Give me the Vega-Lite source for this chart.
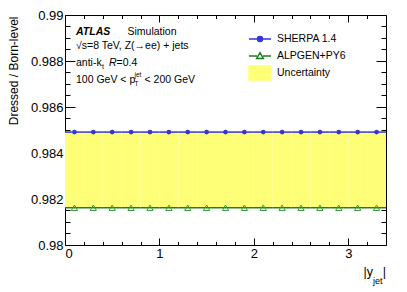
{
  "$schema": "https://vega.github.io/schema/vega-lite/v6.json",
  "width": 321,
  "height": 230,
  "autosize": "none",
  "padding": {"left": 65, "top": 15, "right": 21, "bottom": 47},
  "config": {
    "view": {"stroke": "black", "strokeWidth": 1},
    "font": "Liberation Sans",
    "axis": {"grid": false, "domain": false, "tickColor": "black", "labelColor": "black", "titleColor": "black", "labelFont": "Liberation Sans", "titleFont": "Liberation Sans"}
  },
  "data": {"values": [
    {"x": 0.1, "x0": 0.0, "x1": 0.2, "sherpa": 0.98491, "alpgen": 0.98162},
    {"x": 0.3, "x0": 0.2, "x1": 0.4, "sherpa": 0.98491, "alpgen": 0.98162},
    {"x": 0.5, "x0": 0.4, "x1": 0.6, "sherpa": 0.98491, "alpgen": 0.98162},
    {"x": 0.7, "x0": 0.6, "x1": 0.8, "sherpa": 0.98491, "alpgen": 0.98162},
    {"x": 0.9, "x0": 0.8, "x1": 1.0, "sherpa": 0.98491, "alpgen": 0.98162},
    {"x": 1.1, "x0": 1.0, "x1": 1.2, "sherpa": 0.98491, "alpgen": 0.98162},
    {"x": 1.3, "x0": 1.2, "x1": 1.4, "sherpa": 0.98491, "alpgen": 0.98162},
    {"x": 1.5, "x0": 1.4, "x1": 1.6, "sherpa": 0.98491, "alpgen": 0.98162},
    {"x": 1.7, "x0": 1.6, "x1": 1.8, "sherpa": 0.98491, "alpgen": 0.98162},
    {"x": 1.9, "x0": 1.8, "x1": 2.0, "sherpa": 0.98491, "alpgen": 0.98162},
    {"x": 2.1, "x0": 2.0, "x1": 2.2, "sherpa": 0.98491, "alpgen": 0.98162},
    {"x": 2.3, "x0": 2.2, "x1": 2.4, "sherpa": 0.98491, "alpgen": 0.98162},
    {"x": 2.5, "x0": 2.4, "x1": 2.6, "sherpa": 0.98491, "alpgen": 0.98162},
    {"x": 2.7, "x0": 2.6, "x1": 2.8, "sherpa": 0.98491, "alpgen": 0.98162},
    {"x": 2.9, "x0": 2.8, "x1": 3.0, "sherpa": 0.98491, "alpgen": 0.98162},
    {"x": 3.1, "x0": 3.0, "x1": 3.2, "sherpa": 0.98491, "alpgen": 0.98162},
    {"x": 3.3, "x0": 3.2, "x1": 3.4, "sherpa": 0.98491, "alpgen": 0.98162}
  ]},
  "resolve": {"axis": {"x": "independent", "y": "independent"}},
  "layer": [
    {
      "mark": {"type": "rect", "strokeWidth": 0},
      "encoding": {
        "x": {"field": "x0", "type": "quantitative", "scale": {"domain": [0, 3.4], "nice": false, "zero": false},
              "axis": {"orient": "bottom", "values": [0, 1, 2, 3], "format": "~g", "ticks": false, "labelFontSize": 13, "labelPadding": 2, "title": null}},
        "x2": {"field": "x1"},
        "y": {"field": "alpgen", "type": "quantitative", "scale": {"domain": [0.98, 0.99], "nice": false, "zero": false},
              "axis": {"orient": "left", "values": [0.98, 0.982, 0.984, 0.986, 0.988, 0.99], "format": "~g", "ticks": false, "labelFontSize": 13, "labelPadding": 2,
                       "title": "Dressed / Born-level", "titleFontSize": 12, "titleFontWeight": "normal", "titleX": -48, "titleY": 1, "titleAlign": "right", "titleAngle": -90, "titleBaseline": "alphabetic"}},
        "y2": {"field": "sherpa"},
        "color": {"datum": "Uncertainty", "type": "nominal",
                  "scale": {"domain": ["SHERPA 1.4", "ALPGEN+PY6", "Uncertainty"], "range": ["#3535d8", "#1f7f1f", "#ffff77"]},
                  "legend": {"orient": "none", "legendX": 184, "legendY": 13, "title": null, "padding": 0, "symbolSize": 400, "rowPadding": 0,
                             "labelFont": "Liberation Sans", "labelFontSize": 10.5, "labelOffset": 6, "labelColor": "black",
                             "encode": {"symbols": {"update": {
                               "shape": {"signal": "datum.value === 'SHERPA 1.4' ? 'M-1.1,0L1.1,0M0.25,0A0.25,0.25,0,1,1,-0.25,0A0.25,0.25,0,1,1,0.25,0Z' : datum.value === 'ALPGEN+PY6' ? 'M-1.1,0L-0.3,0M0.3,0L1.1,0M0,-0.33L0.33,0.24L-0.33,0.24Z' : 'M-1.1,-0.7L1.1,-0.7L1.1,0.7L-1.1,0.7Z'"},
                               "fill": {"signal": "datum.value === 'SHERPA 1.4' ? '#3535d8' : datum.value === 'ALPGEN+PY6' ? 'transparent' : '#ffff77'"},
                               "stroke": {"signal": "datum.value === 'SHERPA 1.4' ? '#3535d8' : datum.value === 'ALPGEN+PY6' ? '#1f7f1f' : 'transparent'"},
                               "strokeWidth": {"value": 1.5},
                               "opacity": {"value": 1},
                               "fillOpacity": {"signal": "datum.value === 'ALPGEN+PY6' ? 0 : 1"},
                               "strokeOpacity": {"value": 1}
                             }}}}}
      }
    },
    {
      "mark": {"type": "rule", "strokeWidth": 1.5},
      "encoding": {
        "x": {"field": "x0", "type": "quantitative", "axis": {"orient": "bottom", "values": [0, 1, 2, 3], "labels": false, "offset": -7, "tickSize": 7, "title": null}},
        "x2": {"field": "x1"},
        "y": {"field": "sherpa", "type": "quantitative", "axis": {"orient": "left", "values": [0.98, 0.982, 0.984, 0.986, 0.988, 0.99], "labels": false, "offset": -10, "tickSize": 10, "title": null}},
        "color": {"datum": "SHERPA 1.4", "type": "nominal"}
      }
    },
    {
      "mark": {"type": "rule", "strokeWidth": 1.5},
      "encoding": {
        "x": {"field": "x0", "type": "quantitative", "axis": {"orient": "bottom", "values": [0.2, 0.4, 0.6, 0.8, 1.2, 1.4, 1.6, 1.8, 2.2, 2.4, 2.6, 2.8, 3.2], "labels": false, "offset": -3.5, "tickSize": 3.5, "title": null}},
        "x2": {"field": "x1"},
        "y": {"field": "alpgen", "type": "quantitative", "axis": {"orient": "left", "values": [0.9805, 0.981, 0.9815, 0.9825, 0.983, 0.9835, 0.9845, 0.985, 0.9855, 0.9865, 0.987, 0.9875, 0.9885, 0.989, 0.9895], "labels": false, "offset": -5, "tickSize": 5, "title": null}},
        "color": {"datum": "ALPGEN+PY6", "type": "nominal"}
      }
    },
    {
      "mark": {"type": "point", "filled": true, "shape": "circle", "size": 22, "opacity": 1},
      "encoding": {
        "x": {"field": "x", "type": "quantitative", "axis": {"orient": "top", "values": [0, 1, 2, 3], "labels": false, "offset": -7, "tickSize": 7, "title": null}},
        "y": {"field": "sherpa", "type": "quantitative", "axis": {"orient": "right", "values": [0.98, 0.982, 0.984, 0.986, 0.988, 0.99], "labels": false, "offset": -10, "tickSize": 10, "title": null}},
        "color": {"datum": "SHERPA 1.4", "type": "nominal"}
      }
    },
    {
      "mark": {"type": "point", "filled": false, "fill": "transparent", "shape": "triangle-up", "size": 40, "strokeWidth": 1, "opacity": 1, "stroke": "#3c9a3c"},
      "encoding": {
        "x": {"field": "x", "type": "quantitative", "axis": {"orient": "top", "values": [0.2, 0.4, 0.6, 0.8, 1.2, 1.4, 1.6, 1.8, 2.2, 2.4, 2.6, 2.8, 3.2], "labels": false, "offset": -3.5, "tickSize": 3.5, "title": null}},
        "y": {"field": "alpgen", "type": "quantitative", "axis": {"orient": "right", "values": [0.9805, 0.981, 0.9815, 0.9825, 0.983, 0.9835, 0.9845, 0.985, 0.9855, 0.9865, 0.987, 0.9875, 0.9885, 0.989, 0.9895], "labels": false, "offset": -5, "tickSize": 5, "title": null}}
      }
    },
    {
      "data": {"values": [{"t": "ATLAS"}]},
      "mark": {"type": "text", "align": "left", "baseline": "alphabetic", "dx": 11, "dy": 20, "fontSize": 10.5, "fontWeight": "bold", "fontStyle": "italic", "color": "black"},
      "encoding": {"x": {"datum": 0, "type": "quantitative", "axis": null}, "y": {"datum": 0.99, "type": "quantitative", "axis": null}, "text": {"field": "t"}}
    },
    {
      "data": {"values": [{"t": "Simulation"}]},
      "mark": {"type": "text", "align": "left", "baseline": "alphabetic", "dx": 62.5, "dy": 20, "fontSize": 10.5, "color": "black"},
      "encoding": {"x": {"datum": 0, "type": "quantitative", "axis": null}, "y": {"datum": 0.99, "type": "quantitative", "axis": null}, "text": {"field": "t"}}
    },
    {
      "data": {"values": [{"t": "√s=8 TeV, Z(→ee) + jets"}]},
      "mark": {"type": "text", "align": "left", "baseline": "alphabetic", "dx": 11, "dy": 33.5, "fontSize": 10.5, "color": "black"},
      "encoding": {"x": {"datum": 0, "type": "quantitative", "axis": null}, "y": {"datum": 0.99, "type": "quantitative", "axis": null}, "text": {"field": "t"}}
    },
    {
      "data": {"values": [{"t": "anti-k"}]},
      "mark": {"type": "text", "align": "left", "baseline": "alphabetic", "dx": 11, "dy": 51, "fontSize": 10.5, "color": "black"},
      "encoding": {"x": {"datum": 0, "type": "quantitative", "axis": null}, "y": {"datum": 0.99, "type": "quantitative", "axis": null}, "text": {"field": "t"}}
    },
    {
      "data": {"values": [{"t": "t"}]},
      "mark": {"type": "text", "align": "left", "baseline": "alphabetic", "dx": 37, "dy": 53.5, "fontSize": 7, "color": "black"},
      "encoding": {"x": {"datum": 0, "type": "quantitative", "axis": null}, "y": {"datum": 0.99, "type": "quantitative", "axis": null}, "text": {"field": "t"}}
    },
    {
      "data": {"values": [{"t": "R"}]},
      "mark": {"type": "text", "align": "left", "baseline": "alphabetic", "dx": 44, "dy": 51, "fontSize": 10.5, "fontStyle": "italic", "color": "black"},
      "encoding": {"x": {"datum": 0, "type": "quantitative", "axis": null}, "y": {"datum": 0.99, "type": "quantitative", "axis": null}, "text": {"field": "t"}}
    },
    {
      "data": {"values": [{"t": "=0.4"}]},
      "mark": {"type": "text", "align": "left", "baseline": "alphabetic", "dx": 51.5, "dy": 51, "fontSize": 10.5, "color": "black"},
      "encoding": {"x": {"datum": 0, "type": "quantitative", "axis": null}, "y": {"datum": 0.99, "type": "quantitative", "axis": null}, "text": {"field": "t"}}
    },
    {
      "data": {"values": [{"t": "100 GeV < p"}]},
      "mark": {"type": "text", "align": "left", "baseline": "alphabetic", "dx": 11, "dy": 68.3, "fontSize": 10.5, "color": "black"},
      "encoding": {"x": {"datum": 0, "type": "quantitative", "axis": null}, "y": {"datum": 0.99, "type": "quantitative", "axis": null}, "text": {"field": "t"}}
    },
    {
      "data": {"values": [{"t": "jet"}]},
      "mark": {"type": "text", "align": "left", "baseline": "alphabetic", "dx": 69.5, "dy": 61.5, "fontSize": 6.5, "color": "black"},
      "encoding": {"x": {"datum": 0, "type": "quantitative", "axis": null}, "y": {"datum": 0.99, "type": "quantitative", "axis": null}, "text": {"field": "t"}}
    },
    {
      "data": {"values": [{"t": "T"}]},
      "mark": {"type": "text", "align": "left", "baseline": "alphabetic", "dx": 69.5, "dy": 70.5, "fontSize": 6.5, "color": "black"},
      "encoding": {"x": {"datum": 0, "type": "quantitative", "axis": null}, "y": {"datum": 0.99, "type": "quantitative", "axis": null}, "text": {"field": "t"}}
    },
    {
      "data": {"values": [{"t": "< 200 GeV"}]},
      "mark": {"type": "text", "align": "left", "baseline": "alphabetic", "dx": 79.5, "dy": 68.3, "fontSize": 10.5, "color": "black"},
      "encoding": {"x": {"datum": 0, "type": "quantitative", "axis": null}, "y": {"datum": 0.99, "type": "quantitative", "axis": null}, "text": {"field": "t"}}
    },
    {
      "data": {"values": [{"t": "|y"}]},
      "mark": {"type": "text", "align": "right", "baseline": "alphabetic", "dx": -13, "dy": 31, "fontSize": 12.5, "color": "black"},
      "encoding": {"x": {"datum": 3.4, "type": "quantitative", "axis": null}, "y": {"datum": 0.98, "type": "quantitative", "axis": null}, "text": {"field": "t"}}
    },
    {
      "data": {"values": [{"t": "jet"}]},
      "mark": {"type": "text", "align": "right", "baseline": "alphabetic", "dx": -3.5, "dy": 38.5, "fontSize": 9, "color": "black"},
      "encoding": {"x": {"datum": 3.4, "type": "quantitative", "axis": null}, "y": {"datum": 0.98, "type": "quantitative", "axis": null}, "text": {"field": "t"}}
    },
    {
      "data": {"values": [{"t": "|"}]},
      "mark": {"type": "text", "align": "right", "baseline": "alphabetic", "dx": 0, "dy": 31, "fontSize": 12.5, "color": "black"},
      "encoding": {"x": {"datum": 3.4, "type": "quantitative", "axis": null}, "y": {"datum": 0.98, "type": "quantitative", "axis": null}, "text": {"field": "t"}}
    }
  ]
}
